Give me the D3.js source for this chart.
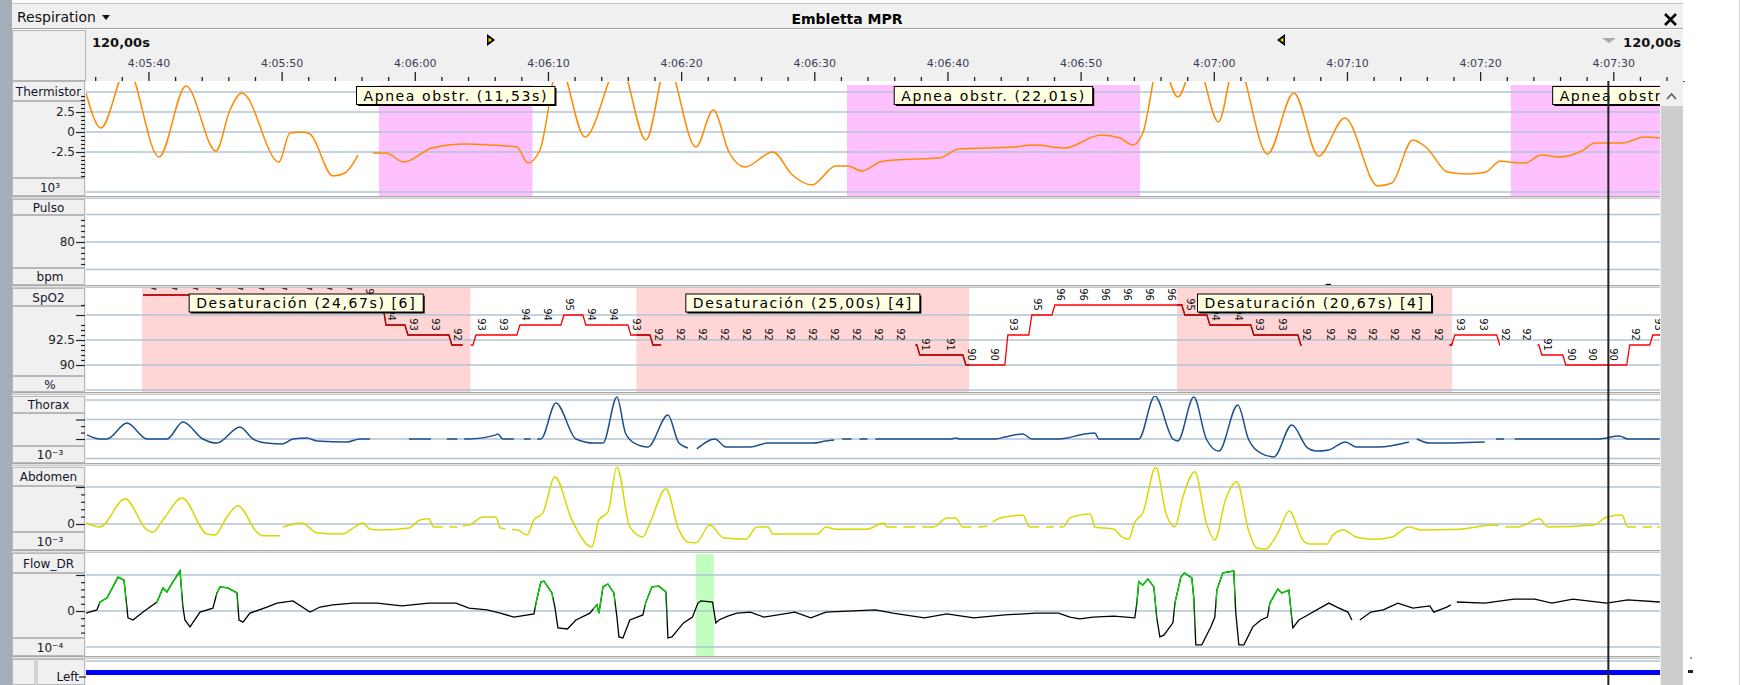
<!DOCTYPE html>
<html><head><meta charset="utf-8">
<script src="https://cdn.jsdelivr.net/npm/d3@7/dist/d3.min.js"></script>
<style>
html,body{margin:0;padding:0;background:#fff;overflow:hidden}
svg{display:block}
text{font-family:"DejaVu Sans",sans-serif}
</style></head><body>
<svg id="chart" width="1741" height="685"></svg>
<script>
// ---------- recording data (time = seconds after 4:05:00) ----------
const timeTickLabels = ["4:05:40","4:05:50","4:06:00","4:06:10","4:06:20","4:06:30","4:06:40","4:06:50","4:07:00","4:07:10","4:07:20","4:07:30"];
const windowLabel = "120,00s";

// Thermistor (x10^3)
const thermistor = [[35.31,4.88],[36.43,0.5],[38.39,8],[40.79,-3.13],[42.82,5.75],[45.07,-2.38],[46.12,2.75],[47.02,4.88],[49.80,-3.75],[50.62,-0.13],[51.53,0],[52.13,-0.25],[53.85,-5.5],[54.75,-5.13],[55.73,-2.88],[56.3,null],[56.86,-2.63],[57.83,-2.63],[59.18,-3.75],[61.29,-2.0],[63.76,-1.5],[65.64,-1.63],[67.67,-1.88],[68.49,-3.88],[69.40,-2.25],[70.82,8.5],[72.78,-0.63],[75.4,8.5],[77.36,-1.0],[78.93,8.5],[81.11,-1.88],[82.42,2.75],[83.59,-2.5],[84.79,-4.38],[86.89,-2.5],[88.36,-5.38],[89.82,-6.63],[91.62,-4.25],[92.52,-4.25],[93.57,-4.88],[94.93,-3.75],[96.05,-3.5],[99.36,-3.25],[100.86,-2.13],[104.99,-1.88],[106.49,-1.63],[108.82,-2.0],[111.52,-0.38],[112.95,-0.75],[113.92,-1.63],[114.67,-0.13],[115.95,9],[117.3,4.38],[118.65,9],[120.35,1.25],[121.65,9],[124.03,-2.75],[126.01,4.88],[127.87,-3.0],[129.84,1.75],[132.32,-6.75],[133.37,-6.38],[134.93,-1.0],[136.0,-2.0],[137.54,-5.0],[139.08,-5.25],[140.43,-5.0],[141.52,-3.63],[142.15,-3.75],[143.36,-3.88],[144.6,-2.88],[145.83,-3.13],[147.64,-2.38],[148.61,-1.38],[150.71,-1.38],[152.29,-0.63],[153.49,-0.75]];
const thermTickLabels = ["2.5","0","-2.5"];

// Pulse (bpm)
const pulse = [[128.4,49],[128.8,49]];
const pulseTickLabels = ["80"];

// SpO2 (%) samples
const spo2 = [[39.59,97],[41.16,97],[42.67,97],[44.47,97],[46.05,97],[47.7,97],[49.42,97],[51.23,97],[52.80,97],[54.30,97],[55.96,96],[57.61,94],[59.26,93],[60.91,93],[62.56,92],[64.37,93],[66.02,93],[67.67,94],[69.32,94],[70.97,95],[72.62,94],[74.28,94],[76.0,93],[77.66,92],[79.31,92],[80.96,92],[82.61,92],[84.26,92],[85.92,92],[87.57,92],[89.22,92],[90.87,92],[92.52,92],[94.17,92],[95.83,92],[97.7,91],[99.58,91],[101.16,90],[102.88,90],[104.31,93],[106.11,95],[107.84,96],[109.57,96],[111.22,96],[112.87,96],[114.52,96],[116.17,96],[117.6,95],[119.48,94],[121.2,94],[122.78,93],[124.51,93],[126.31,92],[128.11,92],[129.69,92],[131.27,92],[132.92,92],[134.5,92],[136.22,92],[137.87,93],[139.6,93],[141.25,92],[142.83,92],[144.41,91],[146.21,90],[147.79,90],[149.36,90],[151.01,92],[152.74,93]];
const spo2Gaps = [[63.6,64.2],[78.5,97.6],[126.6,137.7],[141.5,144.3]];
const spo2TickLabels = ["92.5","90"];

// Thorax (x10^-3)
const thorax = [[35.38,0.21],[36.36,0],[36.88,0],[38.39,0.82],[39.89,0],[41.39,0],[42.59,0.87],[44.09,0],[45.14,-0.21],[46.87,0.62],[47.85,0],[48.90,-0.21],[50.02,-0.26],[50.85,0],[51.90,0.05],[52.65,-0.1],[54.9,-0.15],[55.88,0],[56.63,0],[58,null],[59.56,0],[61.21,0],[61.6,null],[62.41,0],[63.2,0],[63.4,null],[63.7,0],[64.07,0],[66.09,0.21],[66.24,0.26],[66.62,0],[67.44,0],[67.8,null],[68.2,0],[68.7,0],[68.9,null],[69.2,0],[69.47,0],[70.60,1.85],[72.10,0],[73.45,-0.21],[74.13,-0.21],[75.18,2.15],[75.82,0.31],[76.49,-0.21],[77.51,-0.41],[79.01,1.23],[79.83,-0.21],[80.51,-0.46],[80.85,null],[81.18,-0.51],[82.54,0],[83.36,-0.41],[85.2,-0.41],[86.52,-0.21],[89.9,-0.21],[90.87,-0.1],[91.5,-0.05],[91.7,null],[92.1,0],[92.8,0],[93.0,null],[93.4,0],[94.0,0],[94.2,null],[94.59,0],[95.23,0],[96.95,0],[100.26,0],[100.63,0.05],[100.93,0],[103.64,0],[104.31,0.1],[105.66,0.26],[106.34,0],[108.34,0],[109.0,0.05],[109.94,0.21],[111.07,0.31],[111.37,0],[113.1,0],[114.37,0],[115.57,2.2],[116.93,0],[117.3,-0.1],[118.5,2.15],[119.44,0],[120.38,-0.62],[121.8,1.74],[122.6,0],[123.53,-0.72],[124.51,-0.92],[125.86,0.72],[127.04,-0.46],[127.66,-0.62],[128.64,-0.56],[129.89,-0.15],[130.67,-0.41],[132.39,-0.41],[134.65,-0.15],[134.95,null],[135.25,0],[136.22,-0.21],[140.35,-0.15],[140.8,null],[141.2,0],[141.8,0],[142.0,null],[142.6,0],[143.5,0],[148.87,0],[150.46,0.15],[151.09,0],[153.49,0]];

// Abdomen (x10^-3)
const abdomen = [[35.31,0.03],[36.36,-0.08],[38.24,0.68],[39.89,-0.16],[40.34,-0.22],[41.09,0.11],[42.52,0.70],[44.39,-0.27],[44.99,-0.3],[45.89,0.19],[46.72,0.49],[48.15,-0.22],[48.6,-0.32],[49.87,-0.32],[49.98,null],[50.1,-0.08],[51.53,0.03],[52.65,-0.24],[54.6,-0.27],[55.35,-0.11],[56.11,0.03],[56.63,-0.14],[57.38,-0.16],[59.56,-0.11],[60.39,0.11],[61.06,0.14],[61.41,-0.08],[62.1,-0.08],[62.3,null],[62.6,-0.08],[63.2,-0.08],[63.4,null],[63.6,-0.05],[64.07,-0.03],[65.12,0.19],[66.09,0.19],[66.43,-0.11],[66.8,-0.13],[67.0,null],[67.3,-0.15],[67.74,-0.16],[68.42,-0.3],[68.95,0.11],[69.62,0.3],[70.52,1.27],[71.8,0.11],[73.3,-0.62],[73.83,0.11],[74.5,0.32],[75.18,1.54],[76.15,-0.08],[77.13,-0.35],[77.66,0.03],[78.86,0.95],[79.83,-0.16],[80.51,-0.49],[81.11,-0.51],[82.16,-0.03],[83.21,-0.38],[84.86,-0.41],[85.69,-0.08],[86.52,-0.08],[86.89,-0.27],[90.23,-0.27],[90.87,-0.08],[91.55,-0.14],[93.92,-0.14],[95.23,0.03],[95.45,-0.08],[96.2,-0.08],[96.4,null],[96.7,-0.08],[97.6,-0.08],[97.8,null],[98.1,-0.08],[98.95,-0.08],[99.96,0.16],[100.63,0.16],[101.13,-0.08],[101.8,-0.08],[102.0,null],[102.3,-0.08],[103.0,-0.06],[103.2,null],[103.4,0.05],[103.97,0.16],[105.66,0.24],[106.16,-0.08],[106.9,-0.08],[107.1,null],[107.4,-0.08],[108.0,-0.08],[108.2,null],[108.4,-0.08],[108.67,-0.08],[109.19,0.16],[109.94,0.24],[110.73,0.27],[111.07,-0.08],[112.5,-0.14],[113.1,-0.35],[113.59,-0.41],[114.07,0.05],[114.67,0.3],[115.65,1.54],[116.4,0.3],[117.08,-0.08],[117.68,0.73],[118.58,1.41],[119.44,0.03],[120.08,-0.43],[120.87,0.65],[121.73,1.14],[122.6,-0.16],[123.23,-0.65],[123.87,-0.68],[124.81,-0.24],[125.67,0.35],[126.69,-0.43],[127.21,-0.54],[128.49,-0.54],[128.94,-0.3],[129.73,-0.16],[130.67,-0.35],[132.09,-0.41],[133.37,-0.35],[134.65,-0.08],[135.58,-0.16],[138.4,-0.14],[140.95,-0.03],[141.4,-0.05],[141.6,null],[141.9,-0.08],[142.83,-0.08],[144.45,0.14],[145.08,-0.08],[148.54,-0.03],[149.51,0.19],[150.64,0.24],[151.09,-0.08],[151.7,-0.08],[151.9,null],[152.2,-0.08],[152.9,-0.08],[153.1,null],[153.3,-0.08],[153.49,-0.08]];
const abdomenTickLabels = ["0"];

// Flow_DR (x10^-4)
const flow = [[35.31,-0.06],[36.13,0.03],[36.36,0.25],[36.88,0.36],[37.33,0.67],[37.71,0.94],[38.16,0.86],[38.39,0.08],[38.46,-0.19],[38.84,-0.25],[39.59,-0.03],[40.64,0.25],[41.09,0.64],[41.39,0.53],[41.84,0.81],[42.37,1.11],[42.59,0.11],[42.74,-0.25],[43.12,-0.44],[43.87,-0.03],[44.84,0.08],[45.14,0.5],[45.37,0.67],[45.97,0.64],[46.65,0.5],[46.8,-0.25],[47.1,-0.31],[47.62,-0.06],[48.9,0.11],[49.65,0.22],[50.85,0.28],[52.13,-0.03],[52.88,0.11],[53.85,0.17],[55.35,0.22],[57.16,0.22],[59.03,0.14],[61.06,0.22],[63.09,0.22],[64.07,0.08],[65.42,0.03],[66.43,-0.06],[67.44,-0.17],[68.95,-0.08],[69.1,0.22],[69.47,0.81],[69.7,0.83],[70.3,0.5],[70.52,0.11],[70.75,-0.47],[71.46,-0.5],[72.1,-0.25],[73.15,-0.06],[73.45,0.08],[73.68,0.17],[73.83,-0.06],[74.13,0.67],[74.5,0.75],[74.95,0.5],[75.18,-0.17],[75.33,-0.72],[75.63,-0.75],[76.15,-0.25],[77.13,-0.11],[77.33,0.22],[77.81,0.67],[78.33,0.69],[78.86,0.53],[79.01,-0.75],[79.31,-0.72],[80.18,-0.33],[80.85,-0.17],[81.26,0.22],[81.49,0.28],[82.36,0.25],[82.61,-0.33],[82.84,-0.25],[83.51,-0.14],[84.19,-0.06],[85.2,-0.03],[86.22,-0.17],[88.54,-0.03],[89.74,-0.19],[90.87,-0.03],[94.59,0.03],[95.9,-0.06],[98.27,-0.19],[99.96,-0.08],[101.98,-0.19],[104.31,-0.11],[106.64,-0.06],[108.34,-0.06],[109.19,-0.17],[109.94,-0.22],[110.92,-0.17],[112.5,-0.14],[114.07,-0.19],[114.22,0.22],[114.37,0.81],[114.67,0.72],[115.05,0.89],[115.5,0.67],[115.72,-0.19],[115.95,-0.72],[116.25,-0.67],[116.93,-0.33],[117.08,0.22],[117.53,0.94],[117.79,1.06],[118.35,0.92],[118.5,0.36],[118.65,-0.94],[119.1,-0.94],[119.78,-0.44],[120.08,-0.17],[120.23,0.58],[120.68,1.06],[121.5,1.11],[121.65,-0.03],[121.88,-0.94],[122.26,-0.94],[122.93,-0.44],[123.53,-0.25],[124.03,-0.17],[124.21,0.22],[124.81,0.61],[125.11,0.5],[125.64,0.58],[125.79,0.03],[125.94,-0.47],[126.39,-0.25],[127.06,-0.11],[127.96,0.08],[128.64,0.22],[129.24,0.11],[130.07,-0.03],[130.37,-0.25],[130.6,null],[130.97,-0.25],[131.79,-0.03],[132.73,0.03],[133.82,0.22],[134.95,0.08],[136.22,0.14],[136.52,-0.03],[137.5,0.11],[137.8,0.17],[138.0,null],[138.25,0.25],[140.35,0.22],[142.53,0.33],[144.11,0.33],[145.38,0.22],[146.96,0.33],[149.51,0.22],[151.09,0.31],[153.49,0.25]];
const flowTickLabels = ["0"];
const inspirations = [[36.3,38.35],[40.6,42.55],[45.1,46.7],[69.05,70.4],[73.4,75.05],[77.25,78.9],[114.2,115.7],[117.05,118.55],[120.15,121.6],[124.15,125.85]];
const flowMarks = [[81.11,82.46]];

// Scored events: [start, duration (s)] and desaturation drop
const apneaEvents = [[57.31,11.53],[92.45,22.01],[142.3,21.20]];
const desatEvents = [[39.51,24.67,6],[76.64,25.00,4],[117.23,20.67,4]];
const cursorTime = 149.63;

// ---------- drawing ----------
const W = 1741, H = 685, PX0 = 86, PX1 = 1660, AX1 = 1684;
const svg = d3.select("#chart");
const defs = svg.append("defs");
const x = d3.scaleLinear().domain([35.31, 155.31]).range([PX0, AX1]);
const tEnd = x.invert(PX1);
const toSec = s => { const p = s.split(":").map(Number); return p[0]*3600 + p[1]*60 + p[2] - (4*3600 + 5*60); };
const fmtDur = d => d.toFixed(2).replace(".", ",");

// window chrome
svg.append("rect").attr("width", W).attr("height", H).attr("fill", "#f0f0f0");
svg.append("rect").attr("x", 0).attr("y", 0).attr("width", 12).attr("height", H).attr("fill", "#a3aeb9");
svg.append("rect").attr("x", 1683).attr("y", 0).attr("width", W - 1683).attr("height", H).attr("fill", "#ffffff");
svg.append("line").attr("x1", 1739.5).attr("x2", 1739.5).attr("y1", 0).attr("y2", H).attr("stroke", "#d8d8d8");
svg.append("rect").attr("x", 12).attr("y", 0).attr("width", 1671).attr("height", 3).attr("fill", "#fbfbfb");
svg.append("line").attr("x1", 12).attr("x2", 1683).attr("y1", 3.5).attr("y2", 3.5).attr("stroke", "#c4c4c4");

// title row
svg.append("text").attr("x", 17).attr("y", 22).style("font-size", "14px").attr("fill", "#111").text("Respiration");
svg.append("path").attr("d", "M102,15 L110,15 L106,20 Z").attr("fill", "#111");
svg.append("text").attr("x", 847).attr("y", 24).attr("text-anchor", "middle").style("font-size", "14px").style("font-weight", "bold").attr("fill", "#000").text("Embletta MPR");
svg.append("path").attr("d", "M1665,14 L1676,25 M1676,14 L1665,25").attr("stroke", "#000").attr("stroke-width", 2.6);
svg.append("line").attr("x1", 12).attr("x2", 1683).attr("y1", 28.5).attr("y2", 28.5).attr("stroke", "#a0a0a0");
svg.append("line").attr("x1", 12).attr("x2", 1683).attr("y1", 29.5).attr("y2", 29.5).attr("stroke", "#ffffff");

// header with time axis
svg.append("rect").attr("x", 12.5).attr("y", 30.5).attr("width", 73).attr("height", 50).attr("fill", "#f0f0f0").attr("stroke", "#b4b4b4");
svg.append("text").attr("x", 92).attr("y", 47).style("font-size", "13px").style("font-weight", "bold").attr("fill", "#111").text(windowLabel);
svg.append("text").attr("x", 1681).attr("y", 47).attr("text-anchor", "end").style("font-size", "13px").style("font-weight", "bold").attr("fill", "#111").text(windowLabel);
svg.append("path").attr("d", "M487,34 L487,46 L495,40 Z").attr("fill", "#000");
svg.append("path").attr("d", "M488.5,37.5 L488.5,42.5 L492,40 Z").attr("fill", "#e8e000");
svg.append("path").attr("d", "M1285,34 L1285,46 L1277,40 Z").attr("fill", "#000");
svg.append("path").attr("d", "M1283.5,37.5 L1283.5,42.5 L1280,40 Z").attr("fill", "#e8e000");
svg.append("path").attr("d", "M1602,38 L1616,38 L1609,43 Z").attr("fill", "#a8a8a8");

const majorTimes = timeTickLabels.map(toSec);
const minorTimes = d3.range(36, 156, 2).filter(t => t % 10 !== 0);
const axT = svg.append("g").attr("transform", "translate(0,81)");
axT.call(d3.axisTop(x).tickValues(majorTimes).tickSize(9).tickSizeOuter(0).tickPadding(5).tickFormat((d, i) => timeTickLabels[i]));
axT.append("g").call(d3.axisTop(x).tickValues(minorTimes).tickSize(4).tickSizeOuter(0).tickFormat(""));
axT.selectAll("g g .domain").remove();
axT.selectAll(".domain").attr("stroke", "#222");
axT.selectAll(".tick line").attr("stroke", "#222").attr("stroke-width", 1.3);
axT.selectAll(".tick text").style("font-size", "11px").attr("fill", "#3b3b55").style("font-family", "DejaVu Sans");

// panel scales
const yTh = d3.scaleLinear().domain([-7.5, 5]).range([192, 92]);
const yPu = d3.scaleLinear().domain([60, 100]).range([269.5, 214.5]);
const ySp = d3.scaleLinear().domain([87.5, 97.5]).range([390, 290]);
const yTx = d3.scaleLinear().domain([-1, 2]).range([458.5, 400]);
const yAb = d3.scaleLinear().domain([0, 1]).range([524, 487]);
const yFl = d3.scaleLinear().domain([-1, 1]).range([647, 575]);

const panels = [
  {id: "th", name: "Thermistor", unit: "10³", top: 81, bottom: 196, nameBox: [81, 100], midBox: [101, 177], unitBox: [178, 195], y: yTh, grid: [5, 2.5, 0, -2.5, -7.5], major: [2.5, 0, -2.5], labels: thermTickLabels, minor: [4.5, 4, 3.5, 3, 2, 1.5, 1, 0.5, -0.5, -1, -1.5, -2, -3, -3.5, -4, -4.5, -5, -5.5]},
  {id: "pu", name: "Pulso", unit: "bpm", top: 199, bottom: 285, nameBox: [199, 214], midBox: [215, 267], unitBox: [268, 284], y: yPu, grid: [100, 80, 60], major: [80], labels: pulseTickLabels, minor: [96, 92, 88, 84, 76, 72, 68, 64]},
  {id: "sp", name: "SpO2", unit: "%", top: 287, bottom: 392, nameBox: [288, 305], midBox: [306, 375], unitBox: [376, 391], y: ySp, grid: [95, 92.5, 90, 87.5], major: [95, 92.5, 90], labels: ["", ...spo2TickLabels], minor: [96, 94, 93.5, 93, 92, 91.5, 91, 90.5]},
  {id: "tx", name: "Thorax", unit: "10⁻³", top: 395, bottom: 463, nameBox: [396, 412], midBox: [413, 445], unitBox: [446, 462], y: yTx, grid: [2, 1, 0, -1], major: [1, 0], labels: ["", ""], minor: [0.66, 0.33]},
  {id: "ab", name: "Abdomen", unit: "10⁻³", top: 466, bottom: 550, nameBox: [467, 485], midBox: [486, 531], unitBox: [532, 549], y: yAb, grid: [1, 0], major: [1, 0], labels: ["", ...abdomenTickLabels], minor: [0.8, 0.6, 0.4, 0.2]},
  {id: "fl", name: "Flow_DR", unit: "10⁻⁴", top: 553, bottom: 656, nameBox: [553, 572], midBox: [573, 637], unitBox: [638, 655], y: yFl, grid: [1, 0, -1], major: [1, 0], labels: ["", ...flowTickLabels], minor: [0.8, 0.6, 0.4, 0.2, -0.2, -0.4, -0.6]}
];

function labelBox(y0, y1, x0 = 12.5, x1 = 84.5) {
  svg.append("rect").attr("x", x0).attr("y", y0 + 0.5).attr("width", x1 - x0).attr("height", y1 - y0).attr("fill", "#f0f0f0").attr("stroke", "#b8b8b8");
}
function clipRect(id, x0, x1, y0, y1) {
  defs.append("clipPath").attr("id", id).append("rect").attr("x", x0).attr("y", y0).attr("width", x1 - x0).attr("height", y1 - y0);
  return `url(#${id})`;
}
function clipIntervals(id, intervals, y0, y1) {
  const cp = defs.append("clipPath").attr("id", id);
  intervals.forEach(([a, b]) => {
    const xa = Math.max(PX0, x(a)), xb = Math.min(PX1, x(b));
    if (xb > xa) cp.append("rect").attr("x", xa).attr("y", y0).attr("width", xb - xa).attr("height", y1 - y0);
  });
  return `url(#${id})`;
}
function complement(gaps, a, b) {
  const out = []; let cur = a;
  gaps.slice().sort((p, q) => p[0] - q[0]).forEach(([g0, g1]) => { if (g0 > cur) out.push([cur, g0]); cur = Math.max(cur, g1); });
  if (cur < b) out.push([cur, b]);
  return out;
}
function intersect(A, B) {
  const out = [];
  A.forEach(([a0, a1]) => B.forEach(([b0, b1]) => { const s = Math.max(a0, b0), e = Math.min(a1, b1); if (e > s) out.push([s, e]); }));
  return out;
}
function eventBox(g, cx, cy, label) {
  const grp = g.append("g");
  const t = grp.append("text").attr("x", cx).attr("y", cy + 5).attr("text-anchor", "middle")
    .style("font-size", "14px").style("letter-spacing", "1.6px").attr("fill", "#000").text(label);
  const w = t.node().getComputedTextLength() + 14;
  grp.insert("rect", "text").attr("x", cx - w / 2 + 1.5).attr("y", cy - 9 + 1.5).attr("width", w).attr("height", 18).attr("fill", "#000");
  grp.insert("rect", "text").attr("x", cx - w / 2).attr("y", cy - 9).attr("width", w).attr("height", 18).attr("fill", "#ffffe1").attr("stroke", "#000");
}

const plotG = {};
panels.forEach(p => {
  labelBox(p.nameBox[0], p.nameBox[1]);
  labelBox(p.midBox[0], p.midBox[1]);
  labelBox(p.unitBox[0], p.unitBox[1]);
  const cyN = (p.nameBox[0] + p.nameBox[1]) / 2 + 5;
  svg.append("text").attr("x", 48.5).attr("y", cyN).attr("text-anchor", "middle").style("font-size", "12px").attr("fill", "#15152a").text(p.name);
  const cyU = (p.unitBox[0] + p.unitBox[1]) / 2 + 5;
  svg.append("text").attr("x", 50).attr("y", cyU).attr("text-anchor", "middle").style("font-size", "12px").attr("fill", "#15152a").text(p.unit);
  svg.append("rect").attr("x", PX0).attr("y", p.top).attr("width", PX1 - PX0).attr("height", p.bottom - p.top).attr("fill", "#ffffff");
  const g = svg.append("g").attr("clip-path", clipRect("clip-" + p.id, PX0, PX1, p.top + 1, p.bottom));
  plotG[p.id] = {g, p};
  // y axis
  const ax = svg.append("g").attr("transform", "translate(85,0)");
  ax.call(d3.axisLeft(p.y).tickValues(p.major).tickSize(9).tickSizeOuter(0).tickPadding(1).tickFormat((d, i) => p.labels[i]));
  ax.append("g").call(d3.axisLeft(p.y).tickValues(p.minor).tickSize(4).tickSizeOuter(0).tickFormat(""));
  ax.selectAll(".domain").remove();
  ax.selectAll(".tick line").attr("stroke", "#222").attr("stroke-width", 1.2);
  ax.selectAll(".tick text").style("font-size", "12px").style("font-family", "DejaVu Sans").attr("fill", "#222");
});

// event regions
const thG = plotG.th.g, spG = plotG.sp.g, flG = plotG.fl.g;
apneaEvents.forEach(([s, d]) => thG.append("rect").attr("x", x(s)).attr("y", 85).attr("width", x(s + d) - x(s)).attr("height", 196 - 85).attr("fill", "#ffc0ff"));
desatEvents.forEach(([s, d]) => spG.append("rect").attr("x", x(s)).attr("y", 288).attr("width", x(s + d) - x(s)).attr("height", 392 - 288).attr("fill", "#ffd5d5"));
flowMarks.forEach(([s, e]) => flG.append("rect").attr("x", x(s)).attr("y", 553).attr("width", x(e) - x(s)).attr("height", 104).attr("fill", "#c0ffc0"));

// gridlines
panels.forEach(p => {
  plotG[p.id].g.selectAll("line.grid").data(p.grid).join("line").attr("class", "grid")
    .attr("x1", PX0).attr("x2", PX1).attr("y1", d => p.y(d)).attr("y2", d => p.y(d))
    .attr("stroke", "#b0c4d4").attr("stroke-width", 1.6);
});

// signals
const line = (ys, curve) => d3.line().defined(d => d[1] !== null).x(d => x(d[0])).y(d => ys(d[1])).curve(curve);
thG.append("path").datum(thermistor).attr("d", line(yTh, d3.curveMonotoneX)).attr("fill", "none").attr("stroke", "#ff8a00").attr("stroke-width", 1.5);
plotG.pu.g.append("path").datum(pulse).attr("d", line(yPu, d3.curveLinear)).attr("fill", "none").attr("stroke", "#000").attr("stroke-width", 1.5);
plotG.tx.g.append("path").datum(thorax).attr("d", line(yTx, d3.curveMonotoneX)).attr("fill", "none").attr("stroke", "#1d4f8e").attr("stroke-width", 1.5);
plotG.ab.g.append("path").datum(abdomen).attr("d", line(yAb, d3.curveMonotoneX)).attr("fill", "none").attr("stroke", "#d8d800").attr("stroke-width", 1.5);
flG.append("path").datum(flow).attr("d", line(yFl, d3.curveLinear)).attr("fill", "none").attr("stroke", "#000").attr("stroke-width", 1.3);
flG.append("g").attr("clip-path", clipIntervals("clip-insp", inspirations, 553, 656))
  .append("path").datum(flow).attr("d", line(yFl, d3.curveLinear)).attr("fill", "none").attr("stroke", "#00d800").attr("stroke-width", 1.3);

// SpO2 stepped trace
const spPts = [];
spo2.forEach((d, i) => {
  const xx = x(d[0]), yy = ySp(d[1]);
  if (i === 0) spPts.push([xx, yy]);
  else { spPts.push([xx, ySp(spo2[i - 1][1])]); spPts.push([xx + 3, yy]); }
});
spPts.push([PX1, ySp(spo2[spo2.length - 1][1])]);
const visible = complement(spo2Gaps, 35.31, tEnd);
const desatIv = desatEvents.map(([s, d]) => [s, s + d]);
spG.append("g").attr("clip-path", clipIntervals("clip-spv", visible, 288, 392))
  .append("path").attr("d", d3.line()(spPts)).attr("fill", "none").attr("stroke", "#ff0000").attr("stroke-width", 1.3);
spG.append("g").attr("clip-path", clipIntervals("clip-spd", intersect(visible, desatIv), 288, 392))
  .append("path").attr("d", d3.line()(spPts)).attr("fill", "none").attr("stroke", "#a81010").attr("stroke-width", 1.3);
spG.selectAll("text.val").data(spo2).join("text").attr("class", "val")
  .attr("transform", d => `translate(${x(d[0]) + 9},${ySp(d[1]) - 10.5}) rotate(90)`)
  .attr("text-anchor", "middle").attr("dy", "0.35em").style("font-size", "10px").attr("fill", "#111").text(d => d[1]);

// event labels
apneaEvents.forEach(([s, d]) => eventBox(thG, x(s + d / 2), 95.5, `Apnea obstr. (${fmtDur(d)}s)`));
desatEvents.forEach(([s, d, k]) => eventBox(spG, x(s + d / 2), 303, `Desaturación (${fmtDur(d)}s) [${k}]`));

// panel separators
[[196, 199], [285, 288], [392, 395], [463, 466], [550, 553], [656, 659]].forEach(([a, b]) => {
  svg.append("rect").attr("x", 12).attr("y", a).attr("width", PX1 - 12).attr("height", b - a).attr("fill", "#e2e2e2");
  svg.append("line").attr("x1", 12).attr("x2", PX1).attr("y1", a + 0.5).attr("y2", a + 0.5).attr("stroke", "#a8a8a8");
  svg.append("line").attr("x1", 12).attr("x2", PX1).attr("y1", b - 0.5).attr("y2", b - 0.5).attr("stroke", "#c8c8c8");
});

// bottom "Left" channel
labelBox(659, 684, 12.5, 35);
labelBox(659, 684, 37, 84.5);
svg.append("rect").attr("x", PX0).attr("y", 659).attr("width", PX1 - PX0).attr("height", H - 659).attr("fill", "#ffffff");
svg.append("line").attr("x1", PX0).attr("x2", PX1).attr("y1", 661).attr("y2", 661).attr("stroke", "#b0c4d4").attr("stroke-width", 1.5);
svg.append("rect").attr("x", PX0).attr("y", 670).attr("width", PX1 - PX0).attr("height", 5).attr("fill", "#0000ff");
svg.append("text").attr("x", 79).attr("y", 681).attr("text-anchor", "end").style("font-size", "12px").attr("fill", "#15152a").text("Left");
svg.append("line").attr("x1", 79).attr("x2", 86).attr("y1", 677).attr("y2", 677).attr("stroke", "#222").attr("stroke-width", 1.2);

// scrollbar
svg.append("rect").attr("x", PX1).attr("y", 81).attr("width", 1683 - PX1).attr("height", H - 81).attr("fill", "#f0f0f0");
svg.append("path").attr("d", "M1667,99 L1671.5,94 L1676,99").attr("fill", "none").attr("stroke", "#606060").attr("stroke-width", 1.8);
svg.append("rect").attr("x", 1661).attr("y", 106).attr("width", 22).attr("height", H - 106).attr("fill", "#cdcdcd");
svg.append("rect").attr("x", 1688).attr("y", 670).attr("width", 5).attr("height", 3).attr("fill", "#222");
svg.append("rect").attr("x", 1690).attr("y", 657).attr("width", 2).attr("height", 2).attr("fill", "#999");

// time cursor
svg.append("line").attr("x1", x(cursorTime)).attr("x2", x(cursorTime)).attr("y1", 81).attr("y2", H).attr("stroke", "#222").attr("stroke-width", 2);
</script>
</body></html>
